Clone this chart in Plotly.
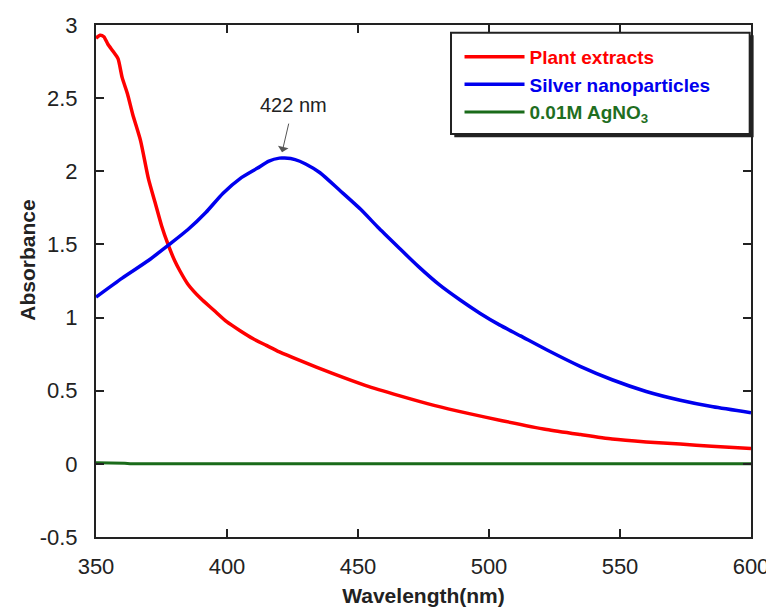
import plotly.graph_objects as go

# ---- data ----
plant_wl = [350, 351.5, 353, 354.5, 356.5, 358.4, 360, 362, 364, 367, 370, 372.5, 375,
            377.5, 380, 382, 385, 390, 395, 400, 405, 410, 415, 420, 428, 440, 453,
            466, 479, 492, 505, 522, 535, 547, 560, 573, 585, 600]
plant_abs = [2.91, 2.93, 2.92, 2.87, 2.82, 2.77, 2.64, 2.53, 2.39, 2.21, 1.95, 1.79, 1.63,
             1.50, 1.39, 1.32, 1.23, 1.13, 1.05, 0.97, 0.91, 0.855, 0.81, 0.765, 0.705, 0.62, 0.535,
             0.465, 0.40, 0.345, 0.295, 0.235, 0.20, 0.17, 0.15, 0.135, 0.12, 0.105]

silver_wl = [350, 360, 370, 378, 385, 392, 398.5, 405, 411.5, 416, 420, 422, 426, 430,
             435.5, 443, 451, 458, 466, 473, 481, 489, 496.5, 504, 512, 522, 535, 547,
             560, 573, 585.5, 600]
silver_abs = [1.14, 1.27, 1.39, 1.50, 1.60, 1.72, 1.85, 1.95, 2.02, 2.07, 2.09, 2.09, 2.08, 2.05,
              1.99, 1.87, 1.74, 1.61, 1.47, 1.35, 1.225, 1.12, 1.03, 0.95, 0.875, 0.78, 0.665, 0.575,
              0.495, 0.435, 0.39, 0.35]

agno3_wl = [350, 355, 361, 363, 400, 450, 500, 550, 600]
agno3_abs = [0.008, 0.008, 0.004, 0.0, 0.0, 0.0, 0.0, 0.0, 0.0]

x_ticks = [350, 400, 450, 500, 550, 600]
y_ticks = [-0.5, 0, 0.5, 1, 1.5, 2, 2.5, 3]
y_tick_labels = ["-0.5", "0", "0.5", "1", "1.5", "2", "2.5", "3"]

peak_wl = 421
peak_abs = 2.13
peak_label = "422 nm"

FONT = "Arial, Liberation Sans, sans-serif"

fig = go.Figure()
fig.add_trace(go.Scatter(x=plant_wl, y=plant_abs, mode="lines",
                         name="<b><span style='color:#ff0000'>Plant extracts</span></b>",
                         line=dict(color="#ff0000", width=3.5, shape="spline", smoothing=0.6)))
fig.add_trace(go.Scatter(x=silver_wl, y=silver_abs, mode="lines",
                         name="<b><span style='color:#0000ee'>Silver nanoparticles</span></b>",
                         line=dict(color="#0000ee", width=3.5, shape="spline", smoothing=0.6)))
fig.add_trace(go.Scatter(x=agno3_wl, y=agno3_abs, mode="lines",
                         name="<b><span style='color:#1f6e1f'>0.01M AgNO<sub>3</sub></span></b>",
                         line=dict(color="#1a6b1a", width=3)))

# legend frame with drop shadow
fig.add_shape(type="rect", xref="paper", yref="paper",
              x0=0.547, x1=1.004, y0=0.781, y1=0.980,
              fillcolor="#222", line=dict(width=0), layer="above")
fig.add_shape(type="rect", xref="paper", yref="paper",
              x0=0.542, x1=0.998, y0=0.787, y1=0.985,
              fillcolor="white", line=dict(color="#222", width=2), layer="above")

fig.add_annotation(x=peak_wl, y=peak_abs, text=peak_label, showarrow=True,
                   ax=11, ay=-47, arrowhead=1, arrowsize=1.8, arrowwidth=1,
                   arrowcolor="#555", startstandoff=6,
                   font=dict(family=FONT, size=20, color="#222"))

# y-axis title placed as a rotated annotation so it can sit slightly above centre
fig.add_annotation(xref="paper", yref="paper", x=-0.105, y=0.54,
                   text="<b>Absorbance</b>", textangle=-90, showarrow=False,
                   xanchor="center", yanchor="middle",
                   font=dict(family=FONT, size=21, color="#222"))

axis_common = dict(showline=True, linecolor="#222", linewidth=2, mirror="allticks",
                   ticks="inside", ticklen=8, tickwidth=1.5, tickcolor="#222",
                   showgrid=False, zeroline=False, automargin=False,
                   tickfont=dict(family=FONT, size=22, color="#222"))

fig.update_xaxes(range=[350, 600], tickvals=x_ticks, ticklabelstandoff=9,
                 title=dict(text="<b>Wavelength(nm)</b>", standoff=10,
                            font=dict(family=FONT, size=21, color="#222")),
                 **axis_common)
fig.update_yaxes(range=[-0.5, 3], tickvals=y_ticks, ticktext=y_tick_labels,
                 ticklabelstandoff=12, **axis_common)

# the page body has an 8 px default margin, so margins are offset to compensate
fig.update_layout(
    width=774, height=610,
    margin=dict(l=88, r=31, t=17, b=81),
    paper_bgcolor="white", plot_bgcolor="white",
    font=dict(family=FONT, color="#222"),
    showlegend=True,
    legend=dict(x=0.555, y=0.975, xanchor="left", yanchor="top",
                bgcolor="rgba(0,0,0,0)", borderwidth=0,
                font=dict(family=FONT, size=19), itemwidth=60,
                tracegroupgap=0),
)

fig.write_html("out.html")
